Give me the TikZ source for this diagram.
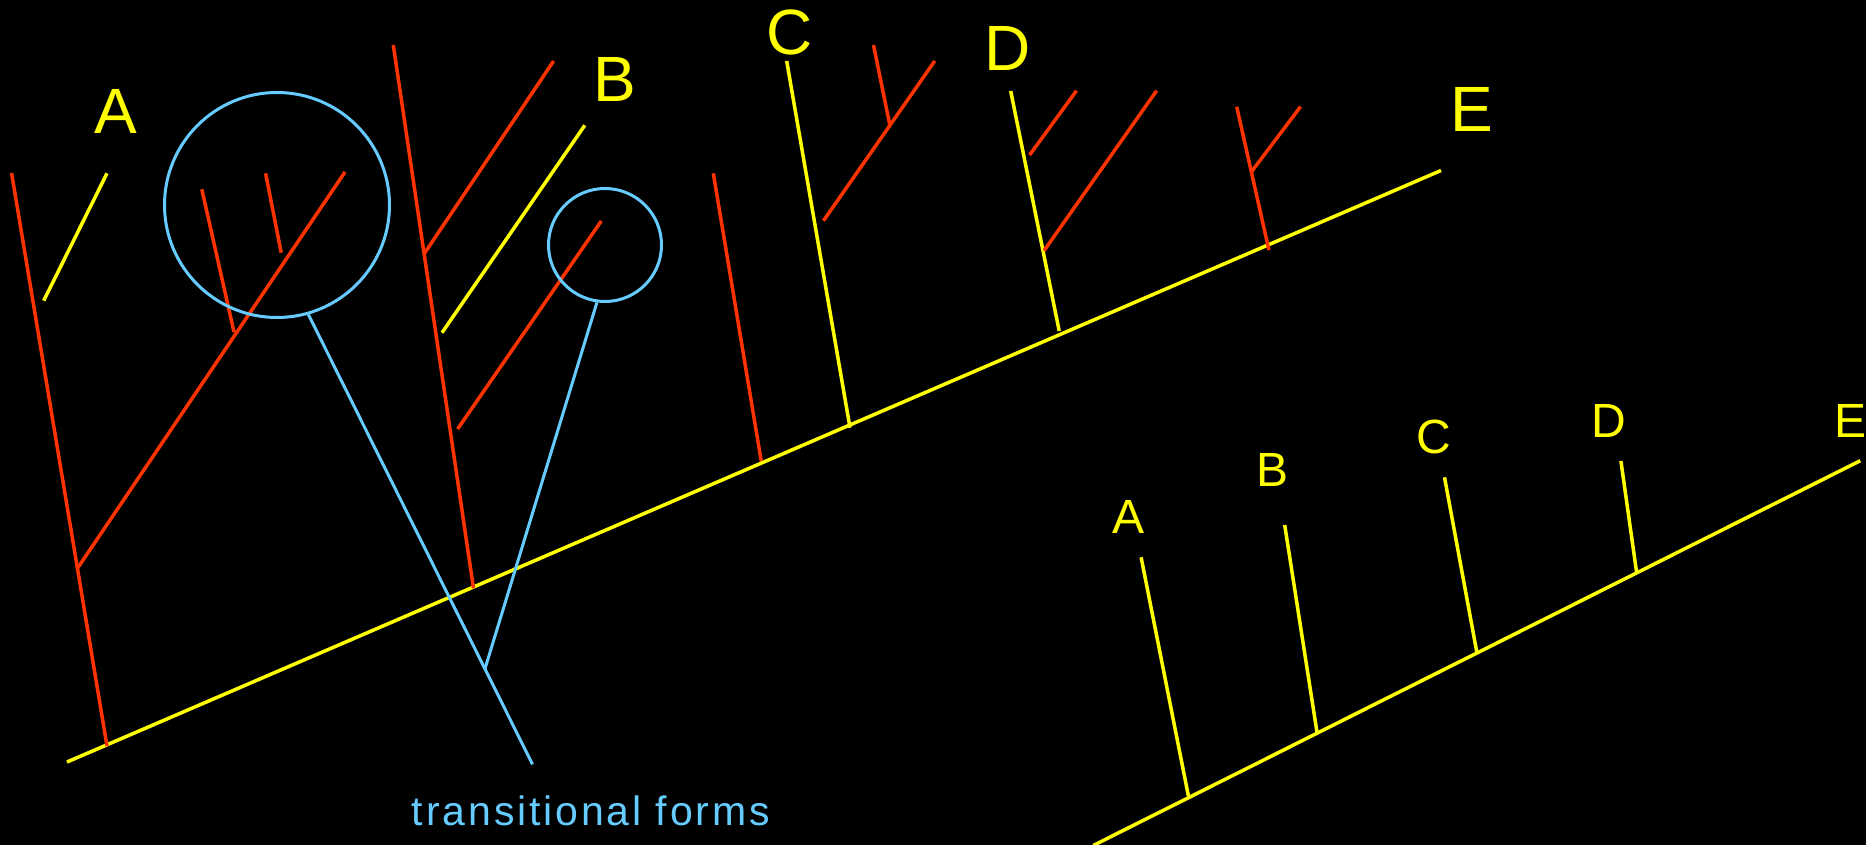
\documentclass[tikz,border=0pt]{standalone}
\usepackage{fontspec}
\setmainfont{Liberation Sans}
\definecolor{treered}{RGB}{255,51,0}
\definecolor{treeyel}{RGB}{255,255,0}
\definecolor{formblue}{RGB}{102,204,255}

\begin{document}
\begin{tikzpicture}[x=1pt, y=-1pt,
    redline/.style={draw=treered, line width=3.5pt},
    yelline/.style={draw=treeyel, line width=3.5pt},
    blueline/.style={draw=formblue, line width=3pt},
    bigname/.style={text=treeyel, inner sep=0pt, font=\fontsize{64}{70}\selectfont},
    smallname/.style={text=treeyel, inner sep=0pt, font=\fontsize{48}{54}\selectfont}]
        \fill[black] (0,0) rectangle (1866,845);
        \useasboundingbox (0,0) rectangle (1866,845);

        % big tree, with the fossil side branches
        \coordinate (t0) at (67,762);
        \coordinate (t1) at (1441,170.5);
        \coordinate (a0) at (11.6,173); \coordinate (a1) at (107,746);
        \coordinate (a2) at (77,569); \coordinate (a3) at (345,172);
        \coordinate (a4) at (107,173.3); \coordinate (a5) at (43.7,300.7);
        \coordinate (a6) at (201.8,189.3); \coordinate (a7) at (234,332);
        \coordinate (a8) at (265.6,173.3); \coordinate (a9) at (281.2,252.7);
        \coordinate (b0) at (393.3,45); \coordinate (b1) at (473.5,588.3);
        \coordinate (b2) at (424.5,253.3); \coordinate (b3) at (553.6,61);
        \coordinate (b4) at (584.8,125.3); \coordinate (b5) at (442,332.7);
        \coordinate (b6) at (601.3,221); \coordinate (b7) at (457.6,429);
        \coordinate (c0) at (713.3,173.3); \coordinate (c1) at (761.2,461);
        \coordinate (c2) at (786.7,61); \coordinate (c3) at (850,427.7);
        \coordinate (c4) at (823.5,220.7); \coordinate (c5) at (934.7,61);
        \coordinate (c6) at (873.5,45); \coordinate (c7) at (889.8,125);
        \coordinate (d0) at (1010.7,91); \coordinate (d1) at (1059.2,331);
        \coordinate (d2) at (1029.6,155); \coordinate (d3) at (1076.5,90.7);
        \coordinate (d4) at (1044,250.7); \coordinate (d5) at (1156.6,90.7);
        \coordinate (e0) at (1236.7,106.7); \coordinate (e1) at (1268.9,250);
        \coordinate (e2) at (1251.5,171.7); \coordinate (e3) at (1300.5,106.7);

        \draw[yelline] (t0) -- (t1);
        \draw[redline] (a0) -- (a1); \draw[redline] (a2) -- (a3);
        \draw[yelline] (a4) -- (a5);
        \draw[redline] (a6) -- (a7); \draw[redline] (a8) -- (a9);
        \draw[redline] (b0) -- (b1); \draw[redline] (b2) -- (b3);
        \draw[yelline] (b4) -- (b5);
        \draw[redline] (b6) -- (b7);
        \draw[redline] (c0) -- (c1);
        \draw[yelline] (c2) -- (c3);
        \draw[redline] (c4) -- (c5); \draw[redline] (c6) -- (c7);
        \draw[yelline] (d0) -- (d1);
        \draw[redline] (d2) -- (d3); \draw[redline] (d4) -- (d5);
        \draw[redline] (e0) -- (e1); \draw[redline] (e2) -- (e3);

        \node[bigname] (nA) at (115.5,111.7) {A};
        \node[bigname] (nB) at (614.5,79.7) {B};
        \node[bigname] (nC) at (789.5,32.5) {C};
        \node[bigname] (nD) at (1008,48.7) {D};
        \node[bigname] (nE) at (1472,109.7) {E};

        % transitional forms
        \node[circle, draw=formblue, line width=3pt, inner sep=0pt, minimum size=225pt] (bigring) at (277,205) {};
        \node[circle, draw=formblue, line width=3pt, inner sep=0pt, minimum size=113pt] (smallring) at (605,245) {};
        \coordinate (f0) at (532.5,764.3);
        \coordinate (f1) at (484.8,669.3);
        \draw[blueline] (bigring.-74) -- (f0);
        \draw[blueline] (smallring.-98) -- (f1);
        \node[text=formblue, anchor=base, font=\fontsize{41}{48}\selectfont\addfontfeatures{LetterSpace=7}] (forms) at (591,825.7) {transitional forms};

        % small tree
        \coordinate (s0) at (1093.2,845.5);
        \coordinate (s1) at (1860.3,460.7);
        \coordinate (sa) at (1188.4,796); \coordinate (sb) at (1317,732.3);
        \coordinate (sc) at (1476.7,651.7); \coordinate (sd) at (1636.5,571.7);
        \node[smallname] (mA) at (1128,516.7) {A};
        \node[smallname] (mB) at (1272.4,469.8) {B};
        \node[smallname] (mC) at (1434,436.5) {C};
        \node[smallname] (mD) at (1609,420.8) {D};
        \node[smallname] (mE) at (1850,420.5) {E};
        \draw[yelline] (s0) -- (s1);
        \draw[yelline] (1141.1,557.3) -- (sa);
        \draw[yelline] (1284.7,525) -- (sb);
        \draw[yelline] (1444.5,477.3) -- (sc);
        \draw[yelline] (1620.9,461) -- (sd);
    \end{tikzpicture}
\end{document}
